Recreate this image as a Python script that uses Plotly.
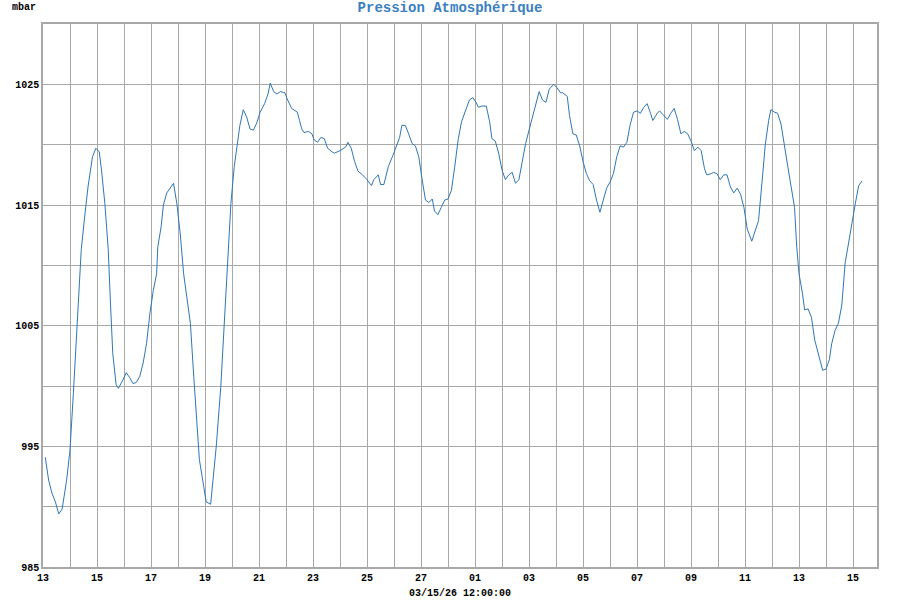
import pandas as pd
import plotly.graph_objects as go

start = "2026-02-13 00:00"
hours = [2,5,8,11,14,17,21,24,27,30,32,34,37,40,44,47,50,52,55,58,60,62,65,67,71,74,77,80,83,86,89,92,95,98,101,102,105,107,110,113,116,119,122,125,128,
         131,134,137,139,143,145,149,151,154,158,161,164,167,170,173,175,178,181,184,187,190,193,197,200,202,205,208,211,215,217,221,226,228,230,232,236,239,241,244,247,250,253,257,259,
         264,269,271,274,277,280,284,288,292,294,298,300,303,307,311,315,317,319,322,325,328,331,334,337,340,343,346,348,351,354,357,360,363,366,369,372,375,379,382,
         385,387,390,394,397,399,402,405,408,411,414,417,420,423,426,429,432,435,438,441,444,447,450,454,457,460,462,466,468,471,474,477,480,483,486,489,492,495,498,501,504,507,510,513,516,
         519,522,525,528,531,534,537,540,542,546,548,551,555,558,561,564,567,570,573,576,579,582,585,588,590,594,596,599,602,605,608,611,614,617,620,623,626,630,633,636,639,642,645,
         647,650,653,656,659,662,665,668,670,672,675,677,680,683,686,689,693,696,699,701,704,707,710,713,716,719,722,725,728]
pressure = [994.1,992.2,991.1,990.4,989.4,989.8,992.2,994.7,999.4,1004.9,1007.7,1011.3,1014.0,1016.5,1019.0,1019.7,1019.4,1017.9,1015.1,1011.3,1006.8,1002.7,1000.1,999.8,1000.5,1001.1,1000.7,1000.2,1000.3,1000.8,1001.9,1003.5,1006.0,1007.9,1009.3,1011.5,1013.2,1015.0,1016.0,1016.4,1016.8,1015.1,1012.6,1009.3,1007.1,
            1005.2,1000.8,996.9,993.9,991.6,990.4,990.2,992.2,995.0,999.9,1004.9,1010.4,1015.1,1018.2,1020.4,1021.6,1022.9,1022.3,1021.3,1021.2,1021.8,1022.7,1023.4,1024.2,1025.1,1024.4,1024.2,1024.4,1024.3,1023.8,1023.0,1022.7,1022.0,1021.3,1021.0,1021.1,1020.9,1020.4,1020.2,1020.6,1020.5,1019.7,1019.4,1019.3,
            1019.5,1019.8,1020.2,1019.7,1018.6,1017.8,1017.5,1017.1,1016.6,1017.1,1017.5,1016.7,1016.7,1018.2,1019.1,1020.0,1020.6,1021.6,1021.6,1020.9,1020.1,1019.9,1019.0,1017.1,1015.4,1015.2,1015.5,1014.5,1014.2,1014.8,1015.4,1015.5,1016.2,1018.2,1020.4,1021.9,1022.7,1023.7,1023.9,
            1023.5,1023.1,1023.2,1023.2,1021.9,1020.5,1020.3,1019.3,1017.9,1017.1,1017.5,1017.7,1016.8,1017.1,1018.7,1020.1,1021.2,1022.2,1023.3,1024.4,1023.7,1023.5,1024.6,1025.0,1024.7,1024.3,1024.3,1024.0,1022.4,1020.9,1020.8,1019.9,1018.6,1017.6,1017.0,1016.7,1015.4,1014.4,1015.4,1016.4,1016.9,1017.6,1019.0,1019.9,1019.8,
            1020.2,1021.7,1022.7,1022.8,1022.6,1023.1,1023.4,1022.6,1022.0,1022.6,1022.8,1022.5,1022.1,1022.6,1023.0,1022.1,1020.9,1021.1,1020.9,1020.3,1019.5,1019.8,1019.5,1018.0,1017.5,1017.6,1017.7,1017.6,1017.1,1017.5,1017.5,1016.5,1016.0,1016.4,1015.9,1014.8,1013.0,1012.0,1012.9,1013.7,1016.8,1020.0,1022.0,
            1022.9,1022.7,1022.6,1021.7,1020.1,1018.2,1016.5,1014.8,1011.5,1009.3,1007.7,1006.3,1006.4,1005.7,1003.8,1002.7,1001.3,1001.4,1002.2,1003.5,1004.6,1005.2,1006.7,1010.2,1011.9,1013.5,1015.1,1016.6,1017.0]

title_text = "Pression Atmosphérique"
y_unit = "mbar"
x_caption = "03/15/26 12:00:00"
y_ticks = [985, 995, 1005, 1015, 1025]

times = pd.Timestamp(start) + pd.to_timedelta(hours, unit="h")
x_end = pd.Timestamp(start) + pd.Timedelta(hours=741.3)

GRID = "#a8a8a8"
MONO = "Liberation Mono, DejaVu Sans Mono, monospace"

fig = go.Figure()
fig.add_trace(go.Scatter(x=times, y=pressure, mode="lines",
                         line=dict(color="#2f76b6", width=1.0), hoverinfo="x+y"))

fig.update_layout(
    width=900, height=600,
    margin=dict(l=43, r=23, t=24, b=33),
    paper_bgcolor="white", plot_bgcolor="white",
    showlegend=False,
    font=dict(family=MONO, size=10, color="black"),
    title=dict(text="<b>" + title_text + "</b>", x=0.5, xanchor="center", y=0.988, yanchor="middle",
               font=dict(family=MONO, size=14, color="#3a80c2")),
    annotations=[
        dict(text="<b>" + y_unit + "</b>", xref="paper", yref="paper", x=-0.04, y=1.0, yshift=17,
             xanchor="left", yanchor="middle", showarrow=False, font=dict(family=MONO, size=10, color="black")),
        dict(text="<b>" + x_caption + "</b>", xref="paper", yref="paper", x=0.5, y=0, yshift=-26,
             xanchor="center", yanchor="middle", showarrow=False, font=dict(family=MONO, size=10, color="black")),
    ],
)
fig.update_xaxes(
    type="date", range=[pd.Timestamp(start), x_end],
    tick0=pd.Timestamp(start), dtick=2 * 86400000, tickformat="<b>%d</b>",
    showgrid=True, gridcolor=GRID, gridwidth=1.2,
    minor=dict(dtick=86400000, tick0=pd.Timestamp(start), showgrid=True, gridcolor=GRID, gridwidth=1.2),
    showline=True, linecolor=GRID, linewidth=1.5, mirror=True,
    ticks="", zeroline=False, ticklabelstandoff=0,
    tickfont=dict(family=MONO, size=10, color="black"),
)
fig.update_yaxes(
    range=[985, 1030], tickvals=y_ticks, ticktext=["<b>%d</b>" % v for v in y_ticks],
    showgrid=True, gridcolor=GRID, gridwidth=1.2,
    minor=dict(dtick=5, tick0=985, showgrid=True, gridcolor=GRID, gridwidth=1.2),
    showline=True, linecolor=GRID, linewidth=1.5, mirror=True,
    ticks="", zeroline=False,
    tickfont=dict(family=MONO, size=10, color="black"),
)

fig.write_html("out.html", config={"displayModeBar": False},
               post_script="document.body.style.margin='0';document.body.style.padding='0';")
